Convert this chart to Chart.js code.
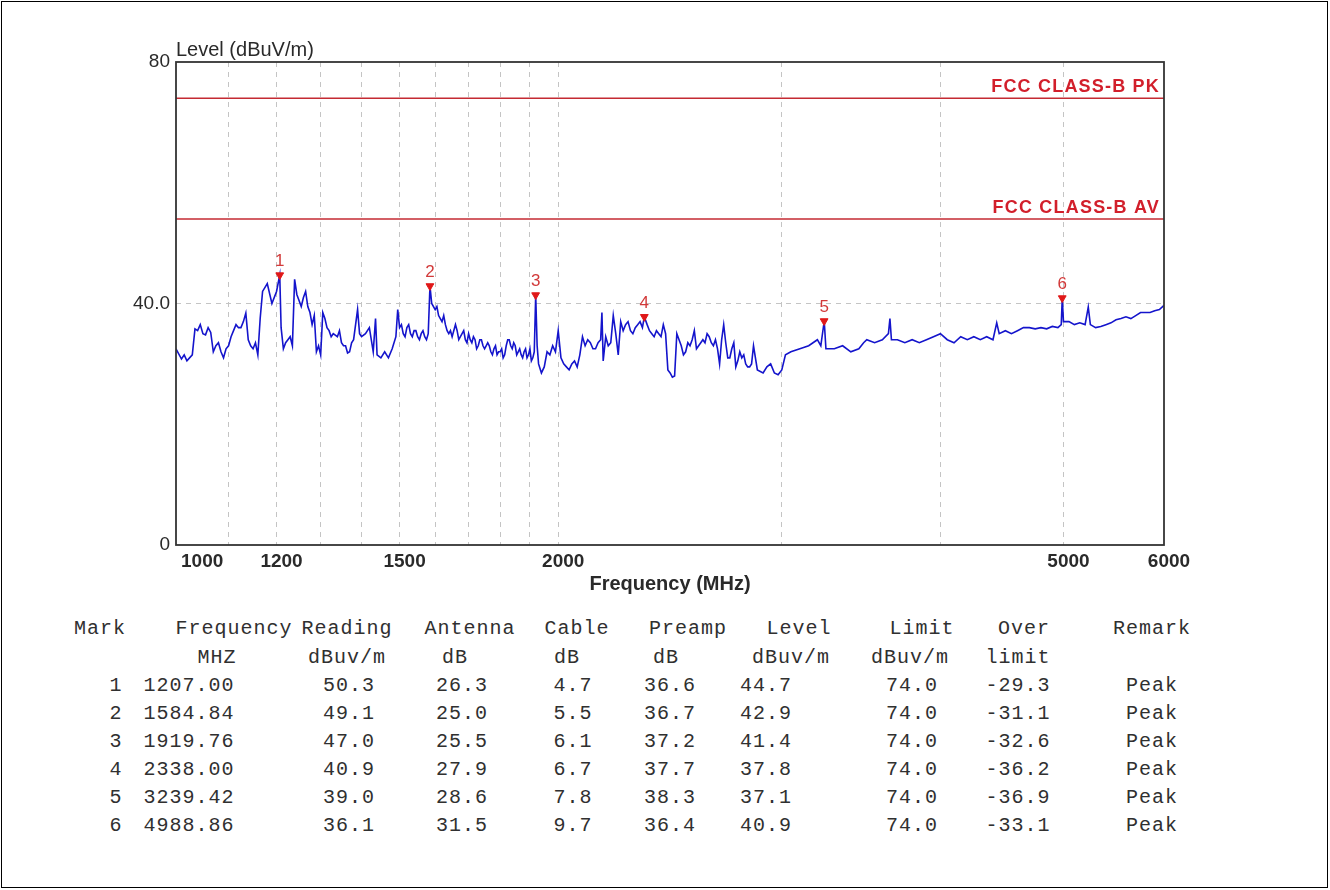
<!DOCTYPE html>
<html>
<head>
<meta charset="utf-8">
<script src="https://cdn.jsdelivr.net/npm/chart.js@4/dist/chart.umd.min.js"></script>
<style>
  body { margin: 0; background: #fff; }
  #page { position: relative; width: 1330px; height: 890px; overflow: hidden; }
  #frame { position: absolute; left: 1px; top: 1px; width: 1325px; height: 885px; border: 1px solid #000; }
  #chart { position: absolute; left: 0; top: 0; }
  .cell { position: absolute; transform: translateX(-50%); white-space: pre;
          font: 20px "Liberation Mono", "Courier New", monospace; letter-spacing: 1px;
          color: #303030; line-height: 24px; }
</style>
</head>
<body>
<div id="page">
  <div id="frame"></div>
  <canvas id="chart" width="1330" height="610"></canvas>
  <div id="table"></div>
</div>
<script>
// sweep trace (MHz / dBuV/m)
var traceFreq = [
  1000, 1010, 1020, 1030, 1035, 1040, 1050, 1060, 1065, 1070, 1080, 1090, 1100, 1110, 1120, 1130, 1135, 1140,
  1150, 1160, 1165, 1170, 1180, 1190, 1200, 1207, 1210, 1220, 1230, 1240, 1245, 1250, 1255, 1260, 1265, 1270,
  1275, 1280, 1285, 1290, 1295, 1300, 1310, 1320, 1330, 1340, 1350, 1360, 1370, 1380, 1390, 1400, 1410, 1420,
  1430, 1436, 1440, 1450, 1460, 1470, 1480, 1490, 1495, 1500, 1510, 1520, 1530, 1540, 1550, 1560, 1570, 1580,
  1585, 1590, 1600, 1610, 1620, 1630, 1640, 1650, 1660, 1670, 1680, 1690, 1700, 1710, 1720, 1730, 1740, 1750,
  1760, 1770, 1780, 1790, 1800, 1810, 1820, 1830, 1840, 1850, 1860, 1870, 1880, 1890, 1900, 1910, 1915, 1920,
  1925, 1930, 1940, 1950, 1960, 1970, 1980, 1990, 2000, 2010, 2020, 2040, 2060, 2080, 2090, 2100, 2120, 2140,
  2160, 2165, 2170, 2180, 2200, 2210, 2220, 2230, 2240, 2260, 2280, 2300, 2320, 2338, 2360, 2380, 2400, 2420,
  2440, 2460, 2480, 2500, 2520, 2540, 2560, 2580, 2600, 2620, 2640, 2660, 2680, 2700, 2720, 2740, 2760, 2780,
  2800, 2820, 2840, 2850, 2870, 2900, 2920, 2940, 2960, 2980, 3000, 3020, 3050, 3100, 3150, 3200, 3220, 3240,
  3250, 3300, 3350, 3400, 3450, 3480, 3500, 3550, 3600, 3640, 3650, 3660, 3700, 3750, 3800, 3850, 3900, 3950,
  4000, 4050, 4100, 4150, 4200, 4250, 4300, 4350, 4400, 4430, 4450, 4500, 4550, 4600, 4650, 4700, 4750, 4800,
  4850, 4900, 4950, 4980, 4989, 5000, 5050, 5100, 5150, 5200, 5230, 5250, 5300, 5350, 5400, 5450, 5500, 5550,
  5600, 5650, 5700, 5750, 5800, 5850, 5900, 5950, 6000
];
var traceLevel = [
  32.5, 30.8, 30.5, 31.5, 35.8, 35.5, 35.0, 36.0, 35.2, 32.0, 33.5, 31.0, 33.0, 35.5, 36.0, 37.0, 38.4, 34.0,
  32.5, 31.5, 37.6, 42.0, 43.3, 40.0, 42.0, 44.7, 36.0, 33.5, 34.5, 44.0, 41.5, 40.5, 39.5, 41.0, 42.0, 39.5,
  38.5, 36.5, 38.0, 32.0, 33.0, 31.5, 37.5, 35.5, 35.0, 34.5, 33.5, 33.0, 32.0, 34.0, 39.0, 34.5, 35.0, 36.0,
  32.0, 37.5, 31.5, 31.0, 32.0, 31.0, 32.5, 34.5, 39.0, 36.0, 35.0, 36.0, 35.0, 35.5, 34.5, 35.0, 34.5, 35.0,
  42.9, 40.0, 39.0, 38.0, 37.0, 36.5, 35.0, 34.5, 36.5, 34.0, 35.0, 34.0, 35.0, 33.5, 34.0, 33.0, 34.0, 32.5,
  33.5, 32.0, 32.5, 31.5, 32.0, 31.0, 33.0, 34.0, 32.5, 33.0, 32.0, 31.5, 32.0, 31.0, 32.5, 31.0, 32.0, 41.4,
  33.0, 30.0, 28.5, 29.5, 32.0, 31.5, 33.0, 32.0, 35.5, 31.0, 30.0, 29.0, 30.5, 31.5, 34.5, 33.0, 33.5, 32.5,
  34.0, 38.5, 30.5, 34.5, 33.5, 38.0, 35.0, 31.5, 37.0, 36.5, 35.5, 36.0, 37.0, 37.8, 35.5, 34.5, 35.0, 36.5,
  29.0, 27.8, 35.0, 33.0, 32.0, 33.0, 35.5, 33.0, 34.0, 35.0, 33.5, 34.0, 30.0, 36.5, 31.0, 32.5, 29.5, 32.0,
  31.5, 29.5, 30.0, 33.0, 29.0, 28.5, 29.5, 30.0, 28.5, 28.2, 29.0, 31.5, 32.0, 32.5, 33.0, 34.0, 33.0, 37.1,
  32.5, 32.5, 33.0, 32.0, 32.5, 33.5, 34.0, 33.5, 34.0, 35.0, 37.5, 34.0, 34.0, 33.5, 34.0, 33.5, 34.0, 34.5,
  35.0, 34.0, 33.5, 34.5, 34.0, 34.5, 34.0, 34.5, 34.0, 36.8, 35.0, 35.5, 35.0, 35.5, 36.0, 36.0, 35.8, 36.0,
  35.8, 36.2, 36.0, 36.5, 40.9, 37.0, 37.0, 36.5, 36.8, 36.5, 39.4, 36.5, 36.0, 36.2, 36.5, 36.8, 37.3, 37.5,
  37.8, 37.5, 38.0, 38.5, 38.5, 38.5, 38.8, 39.0, 39.7
];
// extra in-between readings for the noisy part of the sweep
var detailFreq = [
  1015, 1045, 1055, 1075, 1085, 1095, 1105, 1115, 1125, 1145, 1155, 1215, 1225, 1235, 1305, 1315, 1325, 1345,
  1355, 1365, 1375, 1395, 1505, 1515, 1525, 1535, 1545, 1555, 1565, 1575, 1605, 1615, 1625, 1635, 1645, 1665,
  1675, 1685, 1695, 1705, 1715, 1725, 1735, 1745, 1755, 1765, 1775, 1785, 1795, 1805, 1815, 1825, 1835, 1845,
  1855, 1865, 1875, 1885, 1895, 1905, 2030, 2050, 2070, 2110, 2130, 2150, 2190, 2250, 2270, 2290, 2310, 2330,
  2350, 2370, 2390, 2410, 2430, 2450, 2470, 2490, 2510, 2530, 2550, 2570, 2590, 2610, 2630, 2650, 2670, 2690,
  2710, 2730, 2750, 2770, 2790, 2810, 2830
];
var detailLevel = [
  31.5, 36.5, 34.8, 33.0, 32.0, 32.5, 34.5, 36.5, 36.0, 33.0, 33.5, 32.5, 34.0, 33.0, 38.5, 36.0, 34.5, 35.5,
  33.0, 31.8, 33.5, 35.0, 36.5, 34.5, 36.5, 34.5, 35.5, 34.0, 35.5, 34.0, 39.5, 37.5, 38.0, 35.5, 35.5, 35.5,
  34.5, 35.5, 33.5, 34.0, 34.5, 32.5, 34.0, 33.0, 33.0, 33.0, 31.5, 33.0, 32.0, 32.5, 31.5, 34.0, 33.0, 33.5,
  31.5, 32.5, 31.0, 32.5, 31.5, 30.5, 29.5, 30.0, 29.5, 34.0, 32.5, 33.5, 33.0, 35.5, 37.0, 35.0, 36.5, 36.0,
  36.5, 35.0, 35.5, 34.5, 35.0, 28.5, 28.0, 34.0, 31.5, 33.5, 34.0, 32.5, 33.5, 33.5, 34.5, 33.0, 32.5, 34.0,
  33.5, 31.0, 33.5, 30.5, 31.0, 30.0, 29.5
];

// limit lines
var limitNames = ["FCC CLASS-B PK", "FCC CLASS-B AV"];
var limitLevels = [74, 54];

// axes
var gridFreqs = [1000, 1100, 1200, 1300, 1400, 1500, 1600, 1700, 1800, 1900, 2000, 3000, 4000, 5000, 6000];
var xTickLabels = [1000, 1200, 1500, 2000, 5000, 6000];
var yTicks = [0, 40, 80];
var yTickLabels = ["0", "40.0", "80"];

// marker table
var markNo = [1, 2, 3, 4, 5, 6];
var markFreq = [1207.00, 1584.84, 1919.76, 2338.00, 3239.42, 4988.86];
var reading = [50.3, 49.1, 47.0, 40.9, 39.0, 36.1];
var antenna = [26.3, 25.0, 25.5, 27.9, 28.6, 31.5];
var cable = [4.7, 5.5, 6.1, 6.7, 7.8, 9.7];
var preamp = [36.6, 36.7, 37.2, 37.7, 38.3, 36.4];
var markLevel = [44.7, 42.9, 41.4, 37.8, 37.1, 40.9];
var limitVal = [74.0, 74.0, 74.0, 74.0, 74.0, 74.0];
var overLimit = [-29.3, -31.1, -32.6, -36.2, -36.9, -33.1];
var remark = ["Peak", "Peak", "Peak", "Peak", "Peak", "Peak"];

var SANS = '"Liberation Sans", Arial, sans-serif';

var overlay = {
    id: 'overlay',
    afterDatasetsDraw: function (chart) {
        var ctx = chart.ctx, a = chart.chartArea, x = chart.scales.x, y = chart.scales.y;
        ctx.save();
        ctx.strokeStyle = '#333';
        ctx.lineWidth = 1.8;
        ctx.strokeRect(a.left, a.top, a.right - a.left, a.bottom - a.top);

        ctx.fillStyle = '#2a2a2a';
        ctx.font = '20px ' + SANS;
        ctx.textAlign = 'left';
        ctx.textBaseline = 'bottom';
        ctx.fillText('Level (dBuV/m)', a.left, a.top - 2);

        ctx.fillStyle = '#d21f2b';
        ctx.font = 'bold 18px ' + SANS;
        ctx.letterSpacing = '1.2px';
        ctx.textAlign = 'right';
        ctx.textBaseline = 'alphabetic';
        for (var i = 0; i < limitNames.length; i++) {
            ctx.fillText(limitNames[i], a.right - 4, y.getPixelForValue(limitLevels[i]) - 6);
        }
        ctx.letterSpacing = '0px';

        ctx.fillStyle = '#d23a3a';
        ctx.font = '17px ' + SANS;
        ctx.textAlign = 'center';
        ctx.textBaseline = 'bottom';
        for (var j = 0; j < markNo.length; j++) {
            ctx.fillText(String(markNo[j]), x.getPixelForValue(markFreq[j]), y.getPixelForValue(markLevel[j]) - 5);
        }
        ctx.restore();
    }
};

var trace = traceFreq.map(function (f, i) { return { x: f, y: traceLevel[i] }; })
    .concat(detailFreq.map(function (f, i) { return { x: f, y: detailLevel[i] }; }))
    .sort(function (p, q) { return p.x - q.x; });
var marks = markFreq.map(function (f, i) { return { x: f, y: markLevel[i] }; });
var limitSets = limitLevels.map(function (v) {
    return {
        data: [{ x: 1000, y: v }, { x: 6000, y: v }],
        borderColor: '#c42a32', borderWidth: 1.6, pointRadius: 0, order: 3
    };
});

new Chart(document.getElementById('chart'), {
    type: 'line',
    data: {
        datasets: limitSets.concat([
            { data: trace, borderColor: '#1414cc', borderWidth: 1.6, pointRadius: 0, tension: 0, order: 2 },
            {
                data: marks, showLine: false, pointStyle: 'triangle', rotation: 180, pointRadius: 4.5,
                backgroundColor: '#e01818', borderColor: '#e01818', borderWidth: 1, order: 1
            }
        ])
    },
    options: {
        responsive: false,
        animation: false,
        layout: { padding: { left: 0, right: 166, top: 62, bottom: 0 } },
        plugins: { legend: { display: false }, tooltip: { enabled: false } },
        scales: {
            x: {
                type: 'logarithmic', min: 1000, max: 6000,
                afterBuildTicks: function (s) { s.ticks = gridFreqs.map(function (v) { return { value: v }; }); },
                afterFit: function (s) { s.height = 65; },
                ticks: {
                    autoSkip: false, maxRotation: 0, padding: 5, labelOffset: 5, color: '#2a2a2a',
                    font: { family: SANS, size: 19, weight: 'bold' },
                    callback: function (v) {
                        if (xTickLabels.indexOf(v) < 0) return '';
                        // first label sits just inside the axis, clear of the "0"
                        return v === 1000 ? '\u2007\u2007\u2007\u2007' + v : String(v);
                    }
                },
                grid: {
                    drawTicks: false, lineWidth: 1,
                    color: function (c) {
                        var v = c.tick && c.tick.value;
                        return (v === 1000 || v === 6000) ? 'rgba(0,0,0,0)' : '#c4c4c4';
                    }
                },
                border: { display: false, dash: [5, 5] },
                title: {
                    display: true, text: 'Frequency (MHz)', color: '#2a2a2a',
                    font: { family: SANS, size: 20, weight: 'bold' }, padding: { top: 0, bottom: 14 }
                }
            },
            y: {
                min: 0, max: 80,
                afterBuildTicks: function (s) { s.ticks = yTicks.map(function (v) { return { value: v }; }); },
                afterFit: function (s) { s.width = 176; },
                ticks: {
                    padding: 6, color: '#2a2a2a',
                    font: { family: SANS, size: 19 },
                    callback: function (v) { return yTickLabels[yTicks.indexOf(v)]; }
                },
                grid: {
                    drawTicks: false,
                    color: function (c) { return (c.tick && c.tick.value === 40) ? '#c4c4c4' : 'rgba(0,0,0,0)'; }
                },
                border: { display: false, dash: [5, 5] }
            }
        }
    },
    plugins: [overlay]
});

// marker table below the chart
var headRow1 = ["Mark", "Frequency", "Reading", "Antenna", "Cable", "Preamp", "Level", "Limit", "Over", "Remark"];
var headRow2 = ["", "MHZ", "dBuv/m", "dB", "dB", "dB", "dBuv/m", "dBuv/m", "limit", ""];
var head1X = [100, 234, 347, 470, 577, 688, 799, 922, 1024, 1152];
var head2X = [100, 217, 347, 455, 567, 666, 791, 910, 1018, 1152];
var colX = [116, 189, 349, 462, 573, 670, 766, 912, 1018, 1152];
var rowY = [617, 646, 674, 702, 730, 758, 786, 814];

var table = document.getElementById('table');
function cell(text, cx, top) {
    var d = document.createElement('div');
    d.className = 'cell';
    d.style.left = cx + 'px';
    d.style.top = top + 'px';
    d.textContent = text;
    table.appendChild(d);
}
headRow1.forEach(function (t, i) { cell(t, head1X[i], rowY[0]); });
headRow2.forEach(function (t, i) { if (t) cell(t, head2X[i], rowY[1]); });
markNo.forEach(function (n, r) {
    var vals = [String(n), markFreq[r].toFixed(2), reading[r].toFixed(1), antenna[r].toFixed(1),
        cable[r].toFixed(1), preamp[r].toFixed(1), markLevel[r].toFixed(1), limitVal[r].toFixed(1),
        overLimit[r].toFixed(1), remark[r]];
    vals.forEach(function (t, i) { cell(t, colX[i], rowY[r + 2]); });
});
</script>
</body>
</html>
